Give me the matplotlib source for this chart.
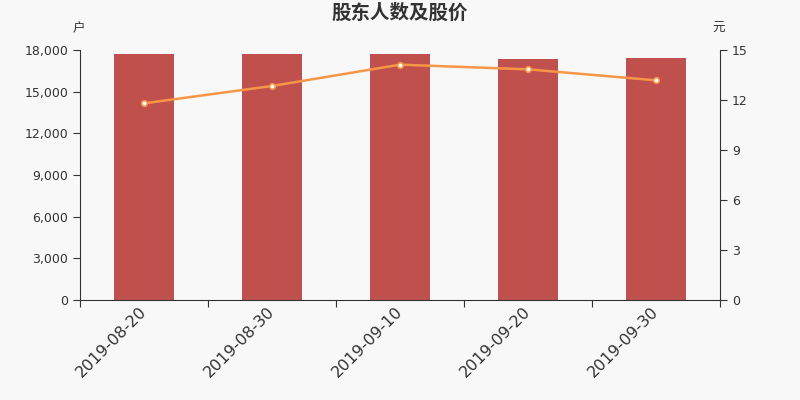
import matplotlib
matplotlib.use("Agg")
import matplotlib.pyplot as plt
import numpy as np

plt.rcParams['font.family'] = ['DejaVu Sans', 'Noto Sans CJK SC']

dates = ["2019-08-20", "2019-08-30", "2019-09-10", "2019-09-20", "2019-09-30"]
holders = [17710, 17735, 17690, 17350, 17420]
price = [11.80, 12.84, 14.12, 13.84, 13.18]

bar_color = "#c0504d"
line_color = "#f79646"
txt = "#333333"

fig = plt.figure(figsize=(8, 4), dpi=100, facecolor="#f8f8f8")
ax = fig.add_axes([0.1, 0.25, 0.8, 0.625])
ax.set_facecolor("#f8f8f8")
x = np.arange(len(dates))
ax.bar(x, holders, width=0.47, color=bar_color, zorder=2)
ax.set_xlim(-0.5, len(dates) - 0.5)
ax.set_ylim(0, 18000)
ax.set_yticks(np.arange(0, 18001, 3000))
ax.set_yticklabels([f"{v:,}" for v in range(0, 18001, 3000)], fontsize=9, color=txt)
ax.set_xticks(np.arange(-0.5, len(dates), 1.0))
ax.set_xticklabels([])
ax.set_xticks(x, minor=True)
ax.set_xticklabels(dates, minor=True, rotation=45, ha="right", va="center",
                   rotation_mode="anchor", fontsize=11.5, color=txt)
ax.tick_params(axis="x", which="minor", length=0, pad=7)
ax.tick_params(axis="x", which="major", length=5, color=txt)
ax.tick_params(axis="y", length=5, color=txt)
for s in ["top", "right"]:
    ax.spines[s].set_visible(False)
for s in ["left", "bottom"]:
    ax.spines[s].set_color(txt)

ax2 = ax.twinx()
ax2.plot(x, price, color=line_color, lw=1.8, marker="o", markersize=4,
         markerfacecolor="white", markeredgecolor=line_color, markeredgewidth=1.2, zorder=3)
ax2.set_ylim(0, 15)
ax2.set_yticks(np.arange(0, 16, 3))
ax2.tick_params(axis="y", length=5, color=txt, labelsize=9, labelcolor=txt)
for s in ["top", "left", "bottom"]:
    ax2.spines[s].set_visible(False)
ax2.spines["right"].set_color(txt)

fig.text(0.5, 0.967, "股东人数及股价", ha="center", va="center", fontsize=14,
         fontweight="bold", color=txt, family=['Noto Sans CJK SC'])
fig.text(0.098, 0.928, "户", ha="center", va="center", fontsize=9, color=txt,
         family=['Noto Sans CJK SC'])
fig.text(0.898, 0.928, "元", ha="center", va="center", fontsize=9, color=txt,
         family=['Noto Sans CJK SC'])

fig.savefig("out.png", dpi=100, facecolor=fig.get_facecolor())
